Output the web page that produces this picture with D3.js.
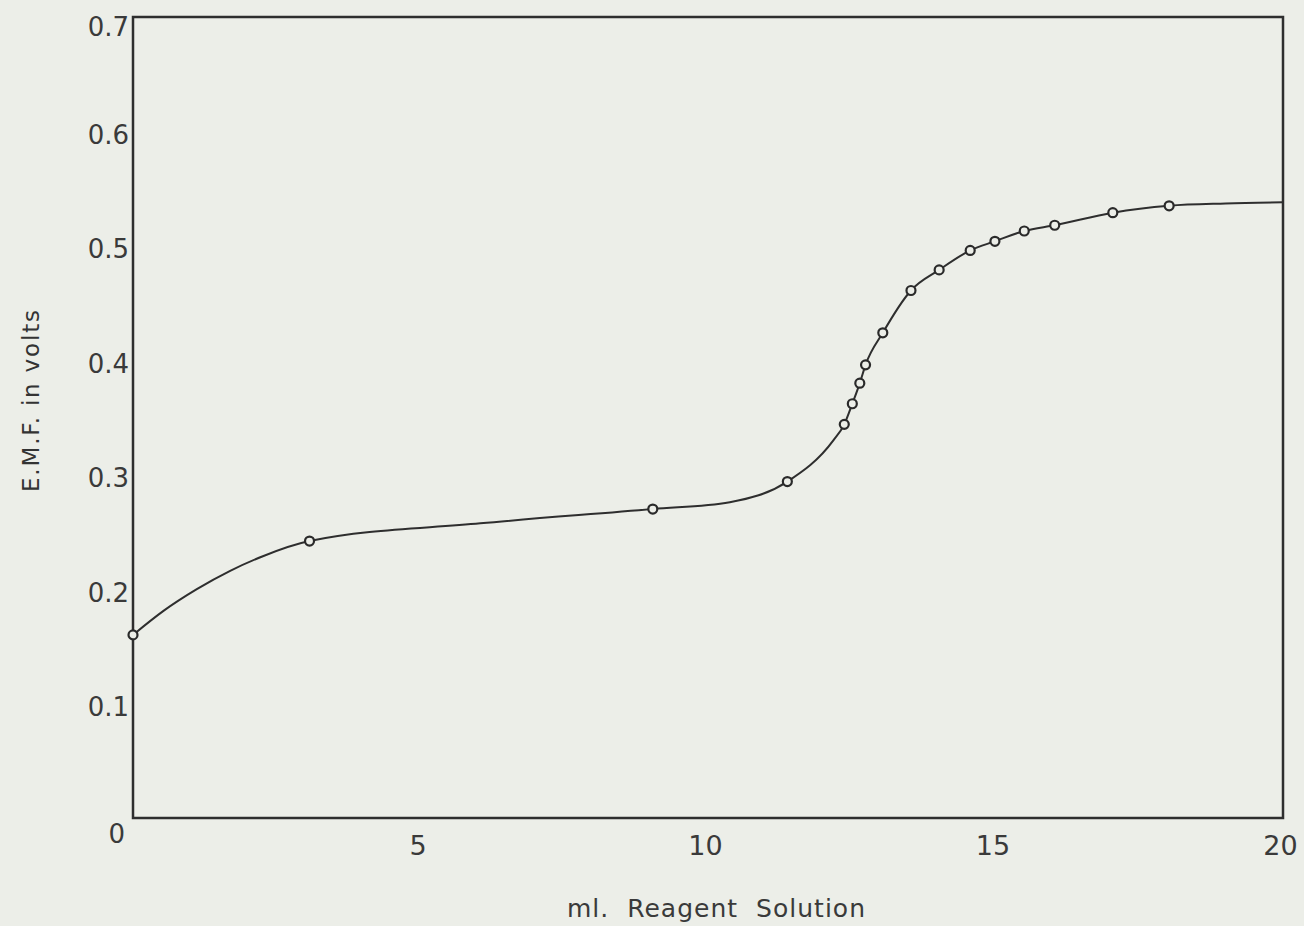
<!DOCTYPE html>
<html>
<head>
<meta charset="utf-8">
<script src="https://cdn.jsdelivr.net/npm/d3@7"></script>
<style>
body { margin: 0; background: #eceee8; }
svg text { font-family: "DejaVu Sans", "Liberation Sans", sans-serif; fill: #3a3a3a; }
</style>
</head>
<body>
<div id="chart"></div>
<script>
// measured points (circles)
var ml = [0, 3.07, 9.04, 11.38, 12.37, 12.51, 12.64, 12.74, 13.04, 13.53, 14.02, 14.56, 14.99, 15.5, 16.03, 17.04, 18.02]
var emf = [0.160, 0.242, 0.270, 0.294, 0.344, 0.362, 0.380, 0.396, 0.424, 0.461, 0.479, 0.496, 0.504, 0.513, 0.518, 0.529, 0.535]

// extra points
var curveMl = [0.53, 1.11, 1.69, 2.27, 6.04, 10.38, 12.18, 19, 20]
var curveEmf = [0.181, 0.200, 0.216, 0.229, 0.2575, 0.276, 0.330, 0.537, 0.538]

var xTicks = [5, 10, 15, 20]
var yTicks = [0, 0.1, 0.2, 0.3, 0.4, 0.5, 0.6, 0.7]
var yTickLabels = ["0", "0.1", "0.2", "0.3", "0.4", "0.5", "0.6", "0.7"]

var svgWidth = 1304, svgHeight = 926;
var margin = {top: 17, right: 21, bottom: 108, left: 133};
var chartWidth = svgWidth - margin.left - margin.right;
var chartHeight = svgHeight - margin.top - margin.bottom;

var svg = d3.select("#chart").append("svg")
  .attr("width", svgWidth)
  .attr("height", svgHeight);

svg.append("rect").attr("width", svgWidth).attr("height", svgHeight).attr("fill", "#eceee8");

var chartGroup = svg.append("g")
  .attr("transform", `translate(${margin.left},${margin.top})`);

var x = d3.scaleLinear().domain([0, 20]).range([0, chartWidth]);
var y = d3.scaleLinear().domain([0, 0.7]).range([chartHeight, 0]);

// frame
chartGroup.append("rect")
  .attr("x", 0).attr("y", 0)
  .attr("width", chartWidth).attr("height", chartHeight)
  .attr("fill", "none")
  .attr("stroke", "#2e2e2e")
  .attr("stroke-width", 2.5);

// axes (labels only, no tick marks)
var bottomAxis = d3.axisBottom(x).tickValues(xTicks).tickSize(0).tickPadding(18);
var leftAxis = d3.axisLeft(y).tickValues(yTicks).tickSize(0).tickPadding(4)
  .tickFormat(function(d, i) { return yTickLabels[i]; });

var gx = chartGroup.append("g")
  .attr("transform", `translate(0,${chartHeight})`)
  .call(bottomAxis);
gx.select(".domain").remove();
gx.selectAll("text")
  .attr("font-size", 27)
  .attr("dx", -3)
  .style("fill", "#3a3a3a")
  .style("font-family", "DejaVu Sans, sans-serif");

var gy = chartGroup.append("g").call(leftAxis);
gy.select(".domain").remove();
gy.selectAll("text")
  .attr("font-size", 26)
  .attr("dy", "0.35em")
  // hand lettering sits a little low at the ends of the axis
  .attr("y", function(d, i) { return i == 0 ? 15 : (i == yTicks.length - 1 ? 9 : 3); })
  .attr("dx", function(d, i) { return i == 0 ? -4 : 0; })
  .style("fill", "#3a3a3a")
  .style("font-family", "DejaVu Sans, sans-serif");

// curve through measured + read-off points
var pts = ml.map(function(d, i) { return [d, emf[i]]; })
  .concat(curveMl.map(function(d, i) { return [d, curveEmf[i]]; }))
  .sort(function(a, b) { return a[0] - b[0]; });

var line = d3.line()
  .x(function(d) { return x(d[0]); })
  .y(function(d) { return y(d[1]); })
  .curve(d3.curveMonotoneX);

chartGroup.append("path")
  .datum(pts)
  .attr("d", line)
  .attr("fill", "none")
  .attr("stroke", "#2e2e2e")
  .attr("stroke-width", 2);

chartGroup.selectAll(".pt")
  .data(ml)
  .enter().append("circle")
  .attr("class", "pt")
  .attr("cx", function(d) { return x(d); })
  .attr("cy", function(d, i) { return y(emf[i]); })
  .attr("r", 4.5)
  .attr("fill", "#eceee8")
  .attr("stroke", "#2a2a2a")
  .attr("stroke-width", 2.2);

// axis titles
svg.append("text")
  .attr("x", 716).attr("y", 917)
  .attr("text-anchor", "middle")
  .attr("font-size", 25)
  .attr("textLength", 298)
  .attr("lengthAdjust", "spacing")
  .attr("xml:space", "preserve")
  .text("ml.  Reagent  Solution");

svg.append("text")
  .attr("transform", "translate(39,401) rotate(-90)")
  .attr("text-anchor", "middle")
  .attr("font-size", 23)
  .attr("textLength", 182)
  .attr("lengthAdjust", "spacing")
  .attr("xml:space", "preserve")
  .style("fill", "#333")
  .text("E.M.F. in volts");
</script>
</body>
</html>
